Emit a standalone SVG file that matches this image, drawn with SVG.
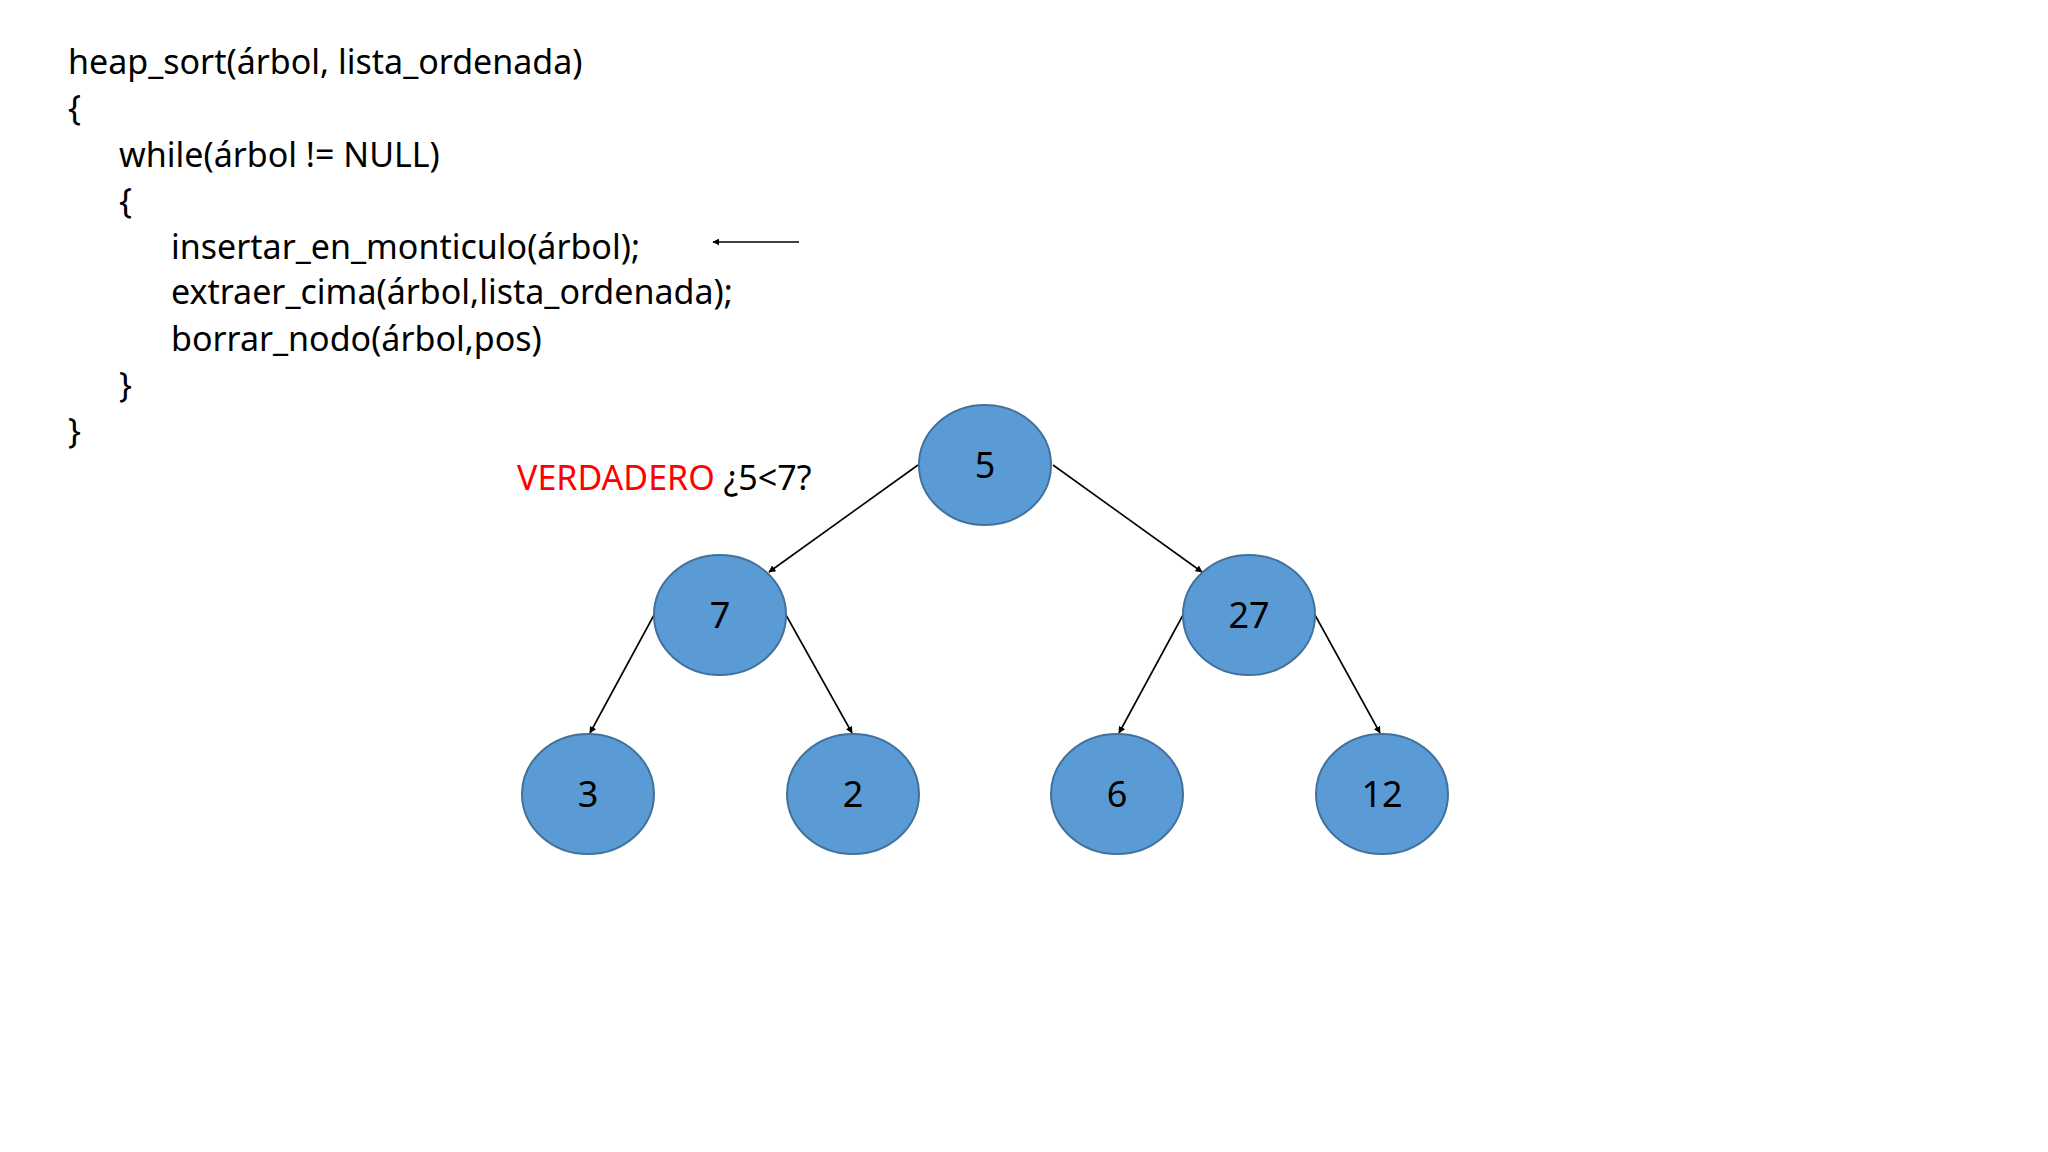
<svg xmlns="http://www.w3.org/2000/svg" width="2048" height="1152" viewBox="0 0 2048 1152">
<style>
.t{font-family:"Noto Sans","Open Sans",sans-serif;font-size:34px;fill:#000}
.n ellipse{fill:#5B9BD5;stroke:#41719C;stroke-width:2}
.n text{font-family:"Noto Sans","Open Sans",sans-serif;font-size:36px;fill:#000;text-anchor:middle}
.e line{stroke:#000;stroke-width:1.6;marker-end:url(#a)}
</style>
<defs><marker id="a" viewBox="0 0 10 10" refX="9" refY="5" markerWidth="7" markerHeight="7" orient="auto" markerUnits="userSpaceOnUse"><path d="M0,0L10,5L0,10z" fill="#000"/></marker></defs>
<rect width="2048" height="1152" fill="#fff"/>
<g id="code">
<text class="t" x="68" y="74">heap_sort(árbol, lista_ordenada)</text>
<text class="t" x="68" y="120">{</text>
<text class="t" x="119" y="167">while(árbol != NULL)</text>
<text class="t" x="119" y="213">{</text>
<text class="t" x="171" y="259">insertar_en_monticulo(árbol);</text>
<text class="t" x="171" y="304">extraer_cima(árbol,lista_ordenada);</text>
<text class="t" x="171" y="351">borrar_nodo(árbol,pos)</text>
<text class="t" x="119" y="397">}</text>
<text class="t" x="68" y="443">}</text>
<text class="t" x="517" y="490"><tspan fill="#FF0000">VERDADERO</tspan> ¿5&lt;7?</text>
</g>
<g class="e" id="connectors">
<line x1="799" y1="242" x2="713" y2="242"/>
<line x1="918" y1="465" x2="769" y2="572"/>
<line x1="1053" y1="465" x2="1202" y2="572"/>
<line x1="654" y1="615" x2="590" y2="733"/>
<line x1="786" y1="615" x2="852" y2="733"/>
<line x1="1183" y1="615" x2="1119" y2="733"/>
<line x1="1315" y1="615" x2="1380" y2="733"/>
</g>
<g class="n" id="n5"><ellipse cx="985" cy="465" rx="66" ry="60"/><text x="985" y="478">5</text></g>
<g class="n" id="n7"><ellipse cx="720" cy="615" rx="66" ry="60"/><text x="720" y="628">7</text></g>
<g class="n" id="n27"><ellipse cx="1249" cy="615" rx="66" ry="60"/><text x="1249" y="628">27</text></g>
<g class="n" id="n3"><ellipse cx="588" cy="794" rx="66" ry="60"/><text x="588" y="807">3</text></g>
<g class="n" id="n2"><ellipse cx="853" cy="794" rx="66" ry="60"/><text x="853" y="807">2</text></g>
<g class="n" id="n6"><ellipse cx="1117" cy="794" rx="66" ry="60"/><text x="1117" y="807">6</text></g>
<g class="n" id="n12"><ellipse cx="1382" cy="794" rx="66" ry="60"/><text x="1382" y="807">12</text></g>
</svg>
